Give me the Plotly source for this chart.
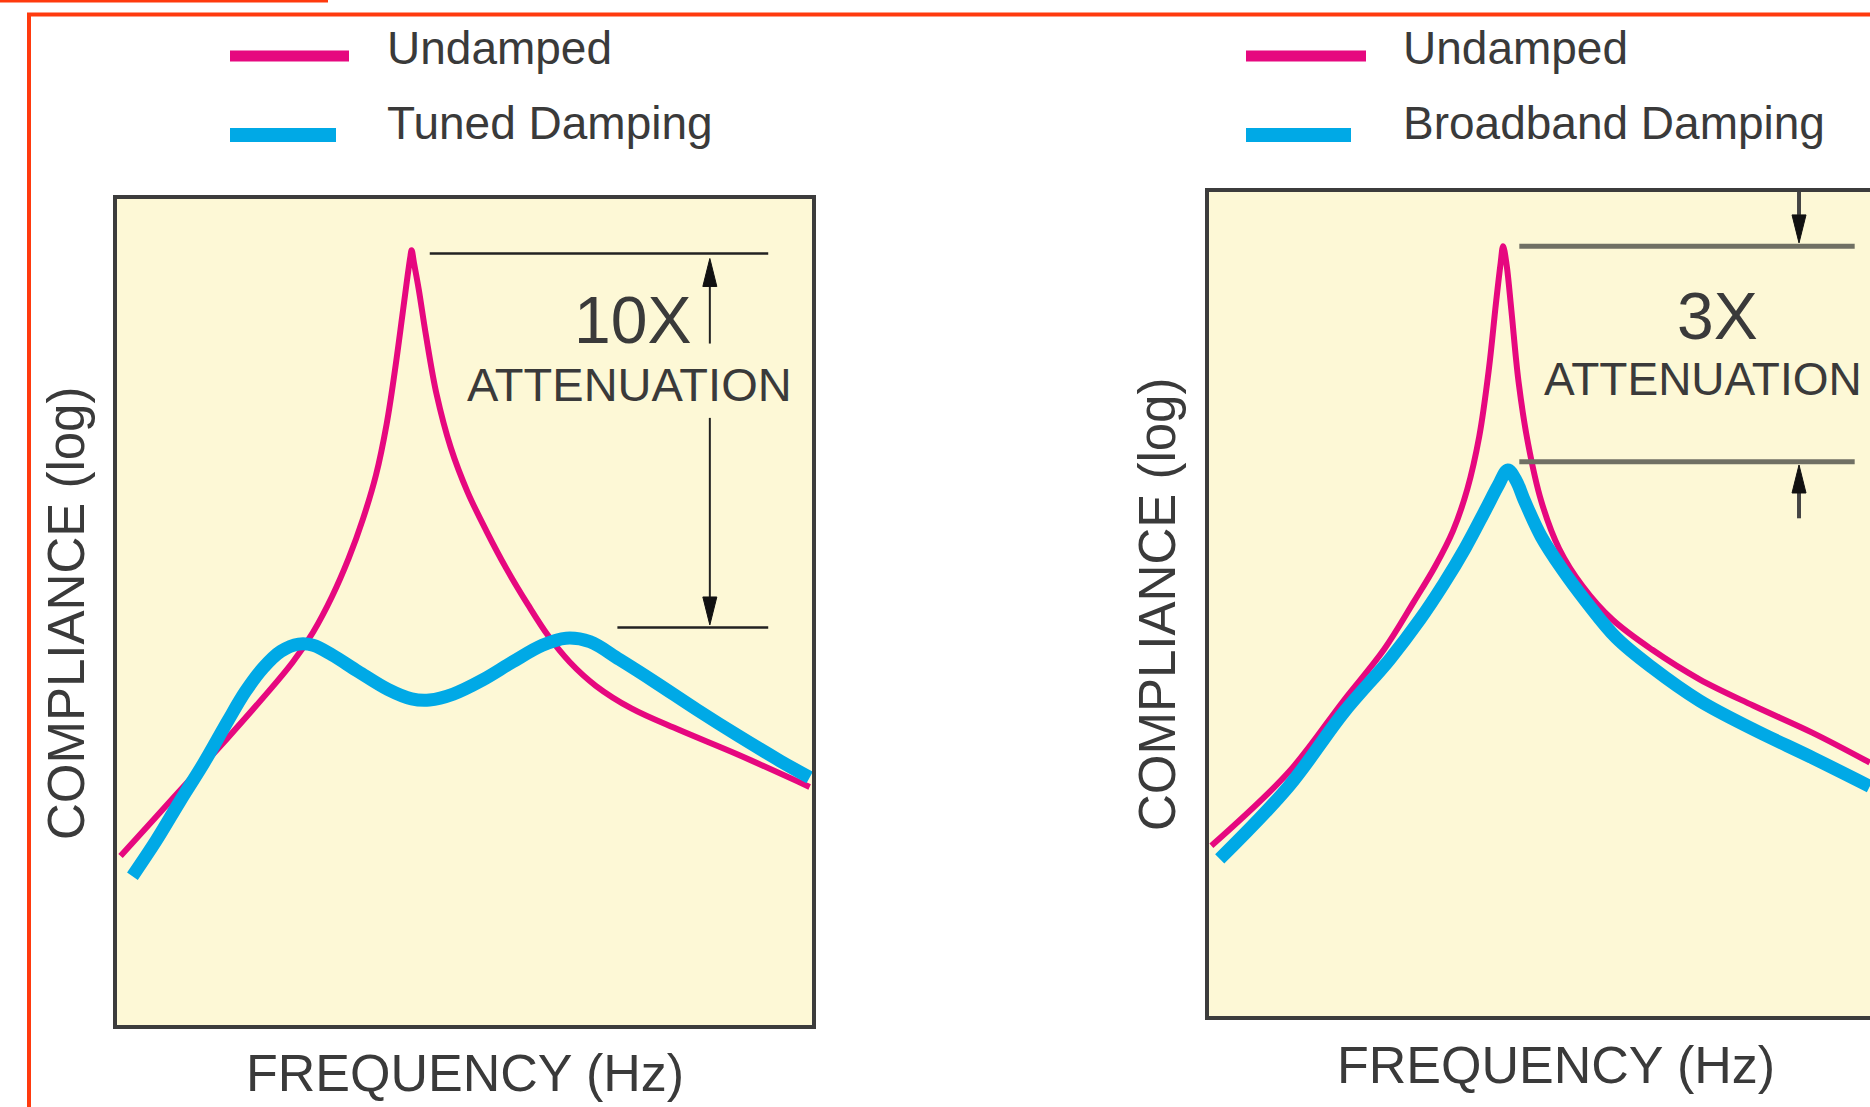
import plotly.graph_objects as go

W, H = 1870, 1107

# Frequency (relative units) vs. compliance (log scale, relative units)
# Tuned damping panel
tuned_freq_undamped = [0.51, 5.64, 10.77, 15.90, 21.03, 25.30, 28.21, 30.94, 33.33, 35.38,
                       37.26, 38.80, 39.99, 41.03, 41.71, 42.22, 42.39, 42.74, 43.42, 44.44,
                       45.98, 48.03, 50.43, 53.16, 56.07, 59.15, 62.05, 65.13, 68.89, 74.02,
                       80.85, 89.40, 99.66]
tuned_comp_undamped = [20.46, 25.22, 29.97, 34.73, 39.63, 43.95, 47.55, 51.87, 56.48, 61.24,
                       66.57, 72.77, 79.25, 85.73, 90.06, 93.08, 93.80, 92.22, 89.05, 83.57,
                       76.37, 69.88, 64.55, 59.80, 55.19, 50.86, 47.12, 43.95, 41.07, 38.33,
                       35.73, 32.71, 28.82]
tuned_freq_damped = [2.22, 5.64, 9.06, 12.48, 15.90, 18.46, 21.03, 23.59, 26.15, 28.21, 30.94,
                     34.70, 38.97, 42.39, 44.96, 48.38, 52.65, 56.92, 61.20, 64.62, 68.03,
                     72.31, 77.44, 83.42, 89.40, 95.38, 99.66]
tuned_comp_damped = [18.01, 22.33, 27.09, 31.70, 36.74, 40.35, 43.23, 45.24, 46.11, 45.97, 44.81,
                     42.80, 40.63, 39.48, 39.34, 40.06, 41.79, 43.95, 45.97, 46.83, 46.40,
                     44.24, 41.50, 38.18, 35.01, 31.99, 29.97]

# Broadband damping panel
broad_freq_undamped = [0.34, 11.46, 19.34, 25.15, 29.43, 32.51, 35.08, 37.13, 38.84, 40.21,
                       41.24, 41.92, 42.27, 42.78, 43.46, 44.49, 45.86, 47.74, 50.31, 53.73,
                       58.01, 63.66, 70.50, 78.20, 86.76, 94.97]
broad_comp_undamped = [20.65, 29.60, 38.26, 44.47, 50.25, 54.58, 58.91, 63.96, 70.32, 78.40,
                       86.49, 91.40, 93.42, 91.11, 85.62, 76.96, 69.45, 62.52, 56.74, 52.12,
                       48.08, 44.47, 40.86, 37.68, 34.36, 30.75]
broad_freq_damped = [1.54, 11.46, 19.34, 26.01, 30.29, 33.71, 36.79, 39.70, 41.58, 42.95, 44.15,
                     45.35, 47.74, 50.82, 54.24, 58.52, 63.66, 70.50, 78.20, 86.76, 94.97]
broad_comp_damped = [19.06, 27.87, 36.82, 43.32, 48.08, 52.41, 56.74, 61.36, 64.40, 66.27, 64.97,
                     62.52, 58.19, 54.14, 50.25, 45.91, 42.30, 38.26, 34.80, 31.33, 27.87]

legend_left = ["Undamped", "Tuned Damping"]
legend_right = ["Undamped", "Broadband Damping"]
attenuation_labels = ["10X", "3X"]
x_title = "FREQUENCY (Hz)"
y_title = "COMPLIANCE (log)"

PINK = "#E6087F"
BLUE = "#00A9E6"
CREAM = "#FDF8D6"
INK = "#3c3c3c"
TEXT = "#3a3a3a"
FRAME_RED = "#FF3A0E"
FONT = "Liberation Sans, Arial, Helvetica, sans-serif"

# Panel boxes in page pixels: left, top, right, bottom
LEFT_BOX = (117, 199, 812, 1025)
RIGHT_BOX = (1209, 192, 1870, 1016)
LEFT_XRANGE = [0, 100]
RIGHT_XRANGE = [0, 95]
YRANGE = [0, 100]


def px(x):
    return x / W


def py(y):
    return 1 - y / H


fig = go.Figure()


def curve(xs, ys, color, width, xa, ya):
    fig.add_trace(go.Scatter(
        x=xs, y=ys, mode="lines", xaxis=xa, yaxis=ya,
        line=dict(color=color, width=width, shape="spline", smoothing=1.0),
        hoverinfo="skip", showlegend=False))


curve(tuned_freq_undamped, tuned_comp_undamped, PINK, 6, "x", "y")
curve(tuned_freq_damped, tuned_comp_damped, BLUE, 13, "x", "y")
curve(broad_freq_undamped, broad_comp_undamped, PINK, 6, "x2", "y2")
curve(broad_freq_damped, broad_comp_damped, BLUE, 13, "x2", "y2")

axis_common = dict(showgrid=False, zeroline=False, showticklabels=False, ticks="",
                   showline=True, linewidth=4, linecolor=INK, fixedrange=True)

fig.update_layout(
    width=W, height=H, autosize=False,
    margin=dict(l=0, r=0, t=0, b=0),
    paper_bgcolor="white", plot_bgcolor=CREAM,
    xaxis=dict(domain=[px(LEFT_BOX[0]), px(LEFT_BOX[2])], range=LEFT_XRANGE,
               anchor="y", mirror=True, **axis_common),
    yaxis=dict(domain=[py(LEFT_BOX[3]), py(LEFT_BOX[1])], range=YRANGE,
               anchor="x", mirror=True, **axis_common),
    xaxis2=dict(domain=[px(RIGHT_BOX[0]), 1.0], range=RIGHT_XRANGE,
                anchor="y2", mirror=True, **axis_common),
    yaxis2=dict(domain=[py(RIGHT_BOX[3]), py(RIGHT_BOX[1])], range=YRANGE,
                anchor="x2", mirror=False, **axis_common),
)

shapes = []
annotations = []

# Outer red frame
shapes.append(dict(type="line", xref="paper", yref="paper", x0=px(0), x1=px(328),
                   y0=py(1), y1=py(1), line=dict(color=FRAME_RED, width=3)))
shapes.append(dict(type="line", xref="paper", yref="paper", x0=px(27), x1=1,
                   y0=py(14.5), y1=py(14.5), line=dict(color=FRAME_RED, width=4)))
shapes.append(dict(type="line", xref="paper", yref="paper", x0=px(29), x1=px(29),
                   y0=py(13), y1=0, line=dict(color=FRAME_RED, width=4)))

# Legend swatches and labels
for x0, labels, len_pink, len_blue in ((230, legend_left, 119, 106),
                                       (1246, legend_right, 120, 105)):
    shapes.append(dict(type="line", xref="paper", yref="paper", x0=px(x0), x1=px(x0 + len_pink),
                       y0=py(56), y1=py(56), line=dict(color=PINK, width=11)))
    shapes.append(dict(type="line", xref="paper", yref="paper", x0=px(x0), x1=px(x0 + len_blue),
                       y0=py(135), y1=py(135), line=dict(color=BLUE, width=14)))
    for lbl, yy in zip(labels, (48, 123)):
        annotations.append(dict(text=lbl, xref="paper", yref="paper", x=px(x0 + 155), y=py(yy),
                                xanchor="left", yanchor="middle", showarrow=False,
                                font=dict(family=FONT, size=46, color=TEXT)))

# Axis titles
for cx, cy in ((465, 1073), (1556, 1065)):
    annotations.append(dict(text=x_title, xref="paper", yref="paper", x=px(cx), y=py(cy),
                            xanchor="center", yanchor="middle", showarrow=False,
                            font=dict(family=FONT, size=52, color=TEXT)))
for cx, cy in ((66, 614), (1157, 605)):
    annotations.append(dict(text=y_title, xref="paper", yref="paper", x=px(cx), y=py(cy),
                            xanchor="center", yanchor="middle", showarrow=False, textangle=-90,
                            font=dict(family=FONT, size=51, color=TEXT)))


def arrow(xa, ya, x, y_tail, y_tip, sx, sy, color, width):
    """Vertical arrow in data coords; sx, sy are pixels per data unit."""
    head_len = 28 / sy
    half_w = 7 / sx
    direction = 1 if y_tip > y_tail else -1
    base = y_tip - direction * head_len
    shapes.append(dict(type="line", xref=xa, yref=ya, x0=x, x1=x, y0=y_tail, y1=base,
                       line=dict(color=color, width=width)))
    shapes.append(dict(type="path", xref=xa, yref=ya,
                       path=f"M {x - half_w},{base} L {x + half_w},{base} L {x},{y_tip} Z",
                       fillcolor="#111111", line=dict(color="#111111", width=1)))


# Left panel: 10X attenuation markers
sxL = (LEFT_BOX[2] - LEFT_BOX[0]) / (LEFT_XRANGE[1] - LEFT_XRANGE[0])
syL = (LEFT_BOX[3] - LEFT_BOX[1]) / (YRANGE[1] - YRANGE[0])
top_L = max(tuned_comp_undamped) - 0.4
bot_L = max(tuned_comp_damped) + 1.3
shapes.append(dict(type="line", xref="x", yref="y", x0=45.0, x1=93.7, y0=top_L, y1=top_L,
                   line=dict(color="#222222", width=2.5)))
shapes.append(dict(type="line", xref="x", yref="y", x0=72.0, x1=93.7, y0=bot_L, y1=bot_L,
                   line=dict(color="#222222", width=2.5)))
arrow("x", "y", 85.3, 82.5, top_L - 0.6, sxL, syL, "#222222", 2)
arrow("x", "y", 85.3, 73.5, bot_L + 0.3, sxL, syL, "#222222", 2)
annotations.append(dict(text=attenuation_labels[0], xref="paper", yref="paper", x=px(632), y=py(320),
                        xanchor="center", yanchor="middle", showarrow=False,
                        font=dict(family=FONT, size=66, color=TEXT)))
annotations.append(dict(text="ATTENUATION", xref="paper", yref="paper", x=px(629), y=py(385),
                        xanchor="center", yanchor="middle", showarrow=False,
                        font=dict(family=FONT, size=47, color=TEXT)))

# Right panel: 3X attenuation markers
sxR = (RIGHT_BOX[2] - RIGHT_BOX[0]) / (RIGHT_XRANGE[1] - RIGHT_XRANGE[0])
syR = (RIGHT_BOX[3] - RIGHT_BOX[1]) / (YRANGE[1] - YRANGE[0])
top_R = max(broad_comp_undamped)
bot_R = max(broad_comp_damped) + 1.0
for yy in (top_R, bot_R):
    shapes.append(dict(type="line", xref="x2", yref="y2", x0=44.6, x1=92.8, y0=yy, y1=yy,
                       line=dict(color="#707064", width=5)))
arrow("x2", "y2", 84.8, 100, top_R + 0.4, sxR, syR, "#444444", 4)
arrow("x2", "y2", 84.8, 60.4, bot_R - 0.4, sxR, syR, "#444444", 4)
annotations.append(dict(text=attenuation_labels[1], xref="paper", yref="paper", x=px(1717), y=py(316),
                        xanchor="center", yanchor="middle", showarrow=False,
                        font=dict(family=FONT, size=66, color=TEXT)))
annotations.append(dict(text="ATTENUATION", xref="paper", yref="paper", x=px(1542), y=py(379),
                        xanchor="left", yanchor="middle", showarrow=False,
                        font=dict(family=FONT, size=46, color=TEXT)))

fig.update_layout(shapes=shapes, annotations=annotations)

fig.write_html("out.html")
